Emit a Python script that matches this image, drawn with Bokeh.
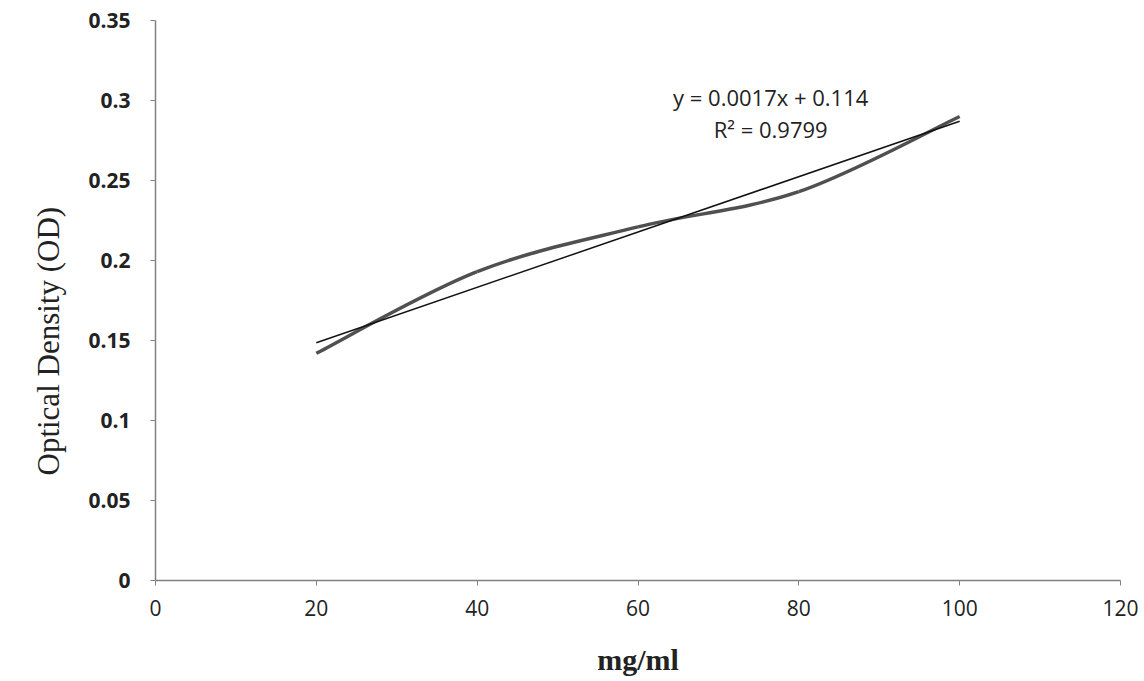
import numpy as np
from bokeh.plotting import figure
from bokeh.models import Range1d, FixedTicker, Label, Title
from bokeh.embed import file_html
from bokeh.resources import INLINE

# Data
conc = [20, 40, 60, 80, 100]
od = [0.142, 0.193, 0.221, 0.243, 0.290]
x_ticks = [0, 20, 40, 60, 80, 100, 120]
y_ticks = [0, 0.05, 0.1, 0.15, 0.2, 0.25, 0.3, 0.35]
y_tick_labels = ["0", "0.05", "0.1", "0.15", "0.2", "0.25", "0.3", "0.35"]
eq_text = "y = 0.0017x + 0.114"
r2_text = "R\u00b2 = 0.9799"
x_title = "mg/ml"
y_title = "Optical Density (OD)"

p = figure(width=1140, height=678, output_backend="svg", toolbar_location=None,
           x_range=Range1d(0, 120), y_range=Range1d(0, 0.35),
           min_border_left=155, min_border_right=20, min_border_top=20, min_border_bottom=98)
p.outline_line_color = None
p.xgrid.visible = False
p.ygrid.visible = False
p.background_fill_color = "white"

# Smoothed series (Excel-like Catmull-Rom bezier)
xs = np.array(conc, dtype=float)
ys = np.array(od, dtype=float)
n = len(xs)
t = 1.0 / 6.0
x0, y0, x1, y1, cx0, cy0, cx1, cy1 = [], [], [], [], [], [], [], []
for i in range(n - 1):
    pm = i - 1 if i > 0 else i
    pp = i + 2 if i + 2 < n else i + 1
    x0.append(xs[i]); y0.append(ys[i])
    x1.append(xs[i + 1]); y1.append(ys[i + 1])
    cx0.append(xs[i] + (xs[i + 1] - xs[pm]) * t)
    cy0.append(ys[i] + (ys[i + 1] - ys[pm]) * t)
    cx1.append(xs[i + 1] - (xs[pp] - xs[i]) * t)
    cy1.append(ys[i + 1] - (ys[pp] - ys[i]) * t)
p.bezier(x0=x0, y0=y0, x1=x1, y1=y1, cx0=cx0, cy0=cy0, cx1=cx1, cy1=cy1,
         line_color="#505050", line_width=3.5)

# Linear trendline
m, b = np.polyfit(xs, ys, 1)
p.line(x=[xs[0], xs[-1]], y=[m * xs[0] + b, m * xs[-1] + b], line_color="#111111", line_width=1.5)

p.add_layout(Label(x=76.5, y=0.3025, text=eq_text, text_align="center", text_baseline="middle",
                   text_font="Open Sans", text_font_size="22px", text_color="#222222"))
p.add_layout(Label(x=76.5, y=0.2825, text=r2_text, text_align="center", text_baseline="middle",
                   text_font="Open Sans", text_font_size="22px", text_color="#222222"))

# Y axis title (off-centre, as in the reference)
p.add_layout(Title(text=y_title, align="left", offset=105, standoff=39,
                   text_font="Liberation Serif", text_font_size="31px",
                   text_font_style="normal", text_color="#222222"), "left")

# Axes
p.xaxis.ticker = FixedTicker(ticks=x_ticks)
p.yaxis.ticker = FixedTicker(ticks=y_ticks)
p.yaxis.major_label_overrides = {v: s for v, s in zip(y_ticks, y_tick_labels)}
for ax in (p.xaxis, p.yaxis):
    ax.axis_line_color = "#808080"
    ax.axis_line_width = 1.5
    ax.major_tick_line_color = "#808080"
    ax.major_tick_in = 0
    ax.major_tick_out = 5
    ax.minor_tick_line_color = None
    ax.major_label_text_font = "Open Sans"
    ax.major_label_text_font_size = "21px"
    ax.major_label_text_color = "#222222"
    ax.axis_label_text_font = "Liberation Serif"
    ax.axis_label_text_font_size = "30px"
    ax.axis_label_text_font_style = "bold"
    ax.axis_label_text_color = "#222222"
p.yaxis.major_label_text_font_style = "bold"
p.xaxis.major_label_standoff = 14
p.yaxis.major_label_standoff = 20
p.xaxis.axis_label = x_title
p.xaxis.axis_label_standoff = 24

open("out.html", "w").write(file_html(p, INLINE))
